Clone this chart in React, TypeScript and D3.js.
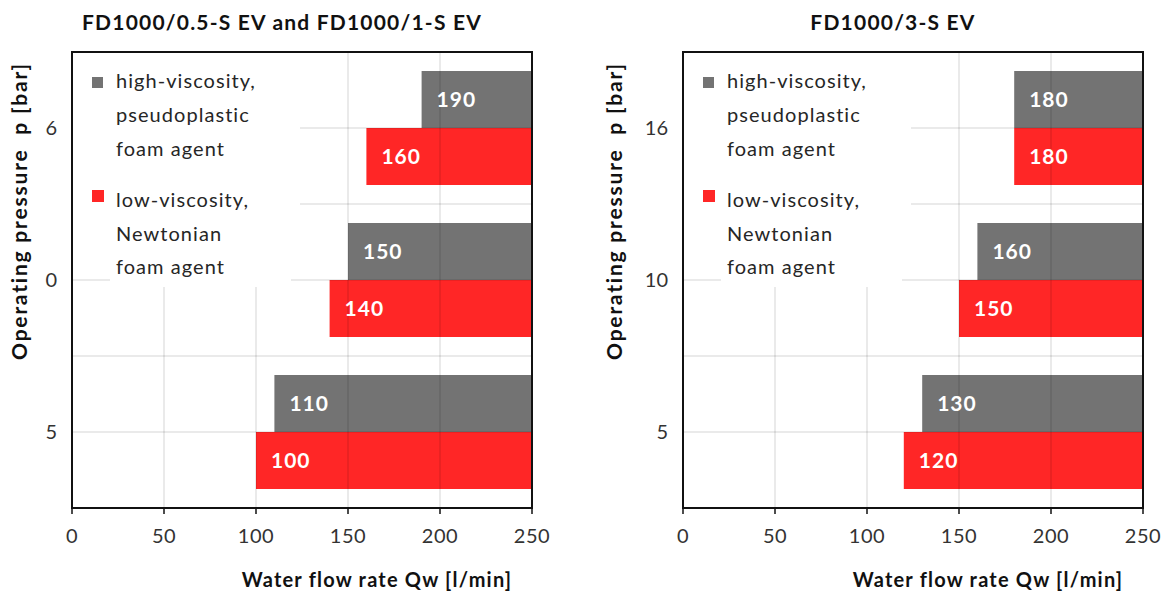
import React, { useEffect, useRef } from 'react';
import * as d3 from 'd3';

// pressure categories (top to bottom) and flow rates per foam agent type
const leftPressures = ['6', '0', '5'];
const leftHighVisc = [190, 150, 110];
const leftLowVisc = [160, 140, 100];

const rightPressures = ['16', '10', '5'];
const rightHighVisc = [180, 160, 130];
const rightLowVisc = [180, 150, 120];

const flowTicks = [0, 50, 100, 150, 200, 250];
const legendHigh = ['high-viscosity,', 'pseudoplastic', 'foam agent'];
const legendLow = ['low-viscosity,', 'Newtonian', 'foam agent'];

const GREY = '#737373';
const RED = '#ff2626';
const FONT = 'Lato, "Open Sans", sans-serif';

type Panel = {
  title: string
  pressures: string[]
  high: number[]
  low: number[]
  x0: number      // left edge of the plot frame
  yTitleX: number // baseline of the rotated axis title, relative to x0
}

const panels: Panel[] = [
  { title: 'FD1000/0.5-S EV and FD1000/1-S EV', pressures: leftPressures, high: leftHighVisc, low: leftLowVisc, x0: 72, yTitleX: -45 },
  { title: 'FD1000/3-S EV', pressures: rightPressures, high: rightHighVisc, low: rightLowVisc, x0: 683, yTitleX: -61 },
];

const drawPanel = (g: d3.Selection<SVGGElement, unknown, null, undefined>, p: Panel) => {
  const top = 52, bottom = 508, w = 460;
  const x = d3.scaleLinear().domain([0, 250]).range([0, w]);
  const y = d3.scaleBand<string>().domain(p.pressures).range([top, bottom]);
  const bw = y.bandwidth();
  const sub = d3.scaleBand<string>().domain(['high', 'low']).range([bw * 0.125, bw * 0.875]);

  const rows = p.pressures.flatMap((c, i) => [
    { c, kind: 'high', v: p.high[i], color: GREY },
    { c, kind: 'low', v: p.low[i], color: RED },
  ]);

  // bars run from the value out to the right edge of the scale
  g.append('g').selectAll('rect')
    .data(rows)
    .join('rect')
    .attr('x', d => x(d.v))
    .attr('y', d => (y(d.c) as number) + (sub(d.kind) as number))
    .attr('width', d => x(250) - x(d.v))
    .attr('height', sub.bandwidth())
    .attr('fill', d => d.color);

  // grid on top of bars (shows through faintly)
  const grid = g.append('g').attr('stroke', '#000').attr('stroke-opacity', 0.17).attr('stroke-width', 1);
  grid.selectAll('line.v')
    .data(flowTicks.slice(1, -1))
    .join('line')
    .classed('v', true)
    .attr('x1', d => x(d)).attr('x2', d => x(d))
    .attr('y1', top).attr('y2', bottom);
  const hLines = p.pressures.flatMap((c, i) => {
    const ys = [(y(c) as number) + bw / 2];
    if (i > 0) ys.push(y(c) as number);
    return ys;
  });
  grid.selectAll('line.h')
    .data(hLines)
    .join('line')
    .classed('h', true)
    .attr('x1', 0).attr('x2', w)
    .attr('y1', d => d).attr('y2', d => d);

  // value labels
  g.append('g').selectAll('text')
    .data(rows)
    .join('text')
    .attr('x', d => x(d.v) + 15)
    .attr('y', d => (y(d.c) as number) + (sub(d.kind) as number) + sub.bandwidth() / 2)
    .attr('dy', '0.36em')
    .attr('fill', '#fff')
    .attr('font-weight', 'bold')
    .attr('font-size', 21)
    .attr('letter-spacing', 1)
    .text(d => d.v);

  // legend with white backing
  const lg = g.append('g');
  lg.append('rect').attr('x', 1).attr('y', top + 1).attr('width', 227).attr('height', 216).attr('fill', '#fff');
  lg.append('rect').attr('x', 38).attr('y', 250).attr('width', 181).attr('height', 37).attr('fill', '#fff');
  lg.append('rect').attr('x', 20).attr('y', 77).attr('width', 11).attr('height', 11).attr('fill', GREY);
  lg.append('rect').attr('x', 20).attr('y', 190).attr('width', 12).attr('height', 12).attr('fill', RED);
  const items = [
    ...legendHigh.map((t, i) => ({ t, y: 88 + 34 * i })),
    ...legendLow.map((t, i) => ({ t, y: 207 + 33.5 * i })),
  ];
  lg.selectAll('text')
    .data(items)
    .join('text')
    .attr('x', 44)
    .attr('y', d => d.y)
    .attr('font-size', 20)
    .attr('letter-spacing', 1.05)
    .attr('fill', '#262626')
    .text(d => d.t);

  // frame
  g.append('rect')
    .attr('x', 0).attr('y', top).attr('width', w).attr('height', bottom - top)
    .attr('fill', 'none').attr('stroke', '#111').attr('stroke-width', 2);

  // x ticks + labels
  g.append('g').selectAll('line')
    .data(flowTicks)
    .join('line')
    .attr('x1', d => x(d)).attr('x2', d => x(d))
    .attr('y1', bottom).attr('y2', bottom + 6)
    .attr('stroke', '#111').attr('stroke-width', 1.5);
  g.append('g').selectAll('text')
    .data(flowTicks)
    .join('text')
    .attr('x', d => x(d))
    .attr('y', 543)
    .attr('text-anchor', 'middle')
    .attr('font-size', 20)
    .attr('letter-spacing', 0.5)
    .attr('fill', '#333')
    .text(d => d);

  // y labels
  g.append('g').selectAll('text')
    .data(p.pressures)
    .join('text')
    .attr('x', -15)
    .attr('y', d => (y(d) as number) + bw / 2)
    .attr('dy', '0.36em')
    .attr('text-anchor', 'end')
    .attr('font-size', 20)
    .attr('fill', '#333')
    .text(d => d);

  // titles
  g.append('text')
    .attr('x', w / 2 - 20).attr('y', 30)
    .attr('text-anchor', 'middle')
    .attr('font-weight', 'bold').attr('font-size', 21).attr('letter-spacing', 1.2).attr('fill', '#111')
    .text(p.title);
  g.append('text')
    .attr('x', w / 2 + 75).attr('y', 587)
    .attr('text-anchor', 'middle')
    .attr('font-weight', 'bold').attr('font-size', 20).attr('letter-spacing', 1.2).attr('fill', '#111')
    .text('Water flow rate Qw [l/min]');
  g.append('text')
    .attr('transform', `translate(${p.yTitleX},211) rotate(-90)`)
    .attr('text-anchor', 'middle')
    .attr('font-weight', 'bold').attr('font-size', 21).attr('letter-spacing', 1.8).attr('fill', '#111')
    .style('white-space', 'pre')
    .text('Operating pressure  p [bar]');
};

export const App: React.FC = () => {
  const svgRef = useRef<SVGSVGElement | null>(null);

  useEffect(() => {
    const svg = d3.select(svgRef.current);
    panels.forEach(p => {
      const g = svg.append('g').attr('transform', `translate(${p.x0},0)`);
      drawPanel(g as any, p);
    });
    return () => {
      svg.selectAll('*').remove();
    };
  }, []);

  return (
    <svg ref={svgRef} width={1175} height={595}
      style={{ position: 'absolute', left: 0, top: 0, background: '#fff', fontFamily: FONT }} />
  );
};

export default App;
